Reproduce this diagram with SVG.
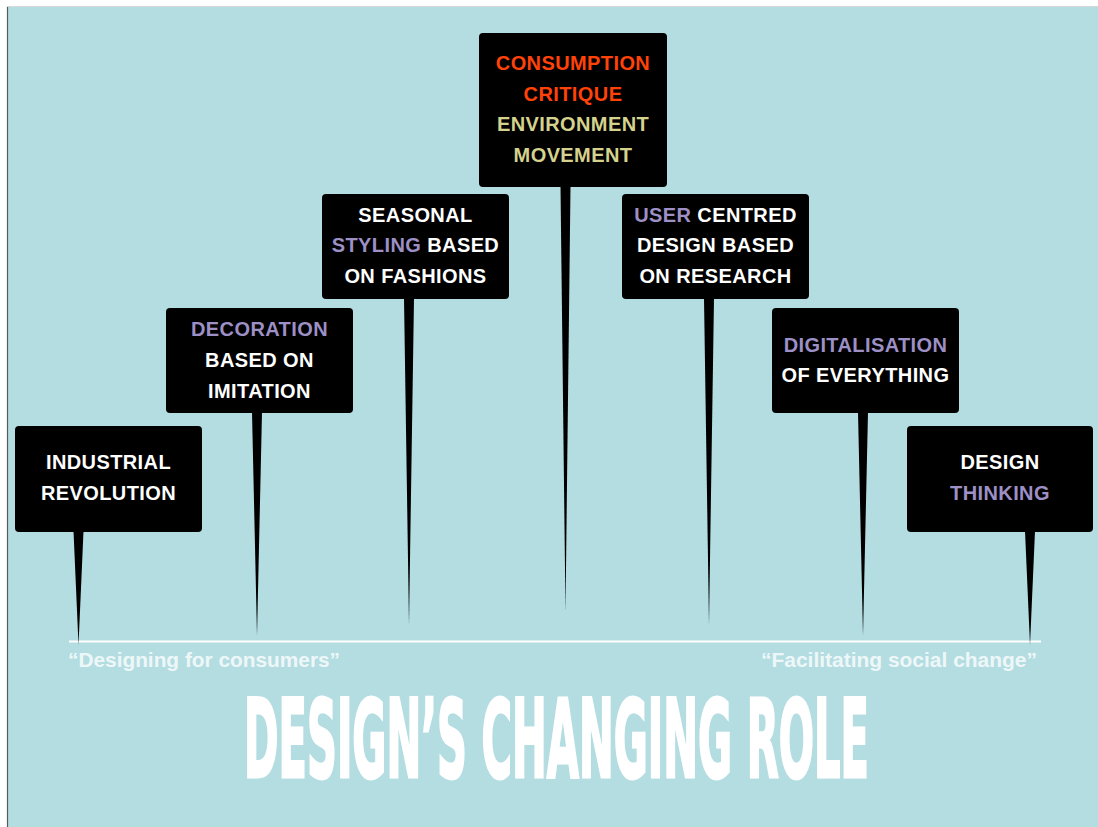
<svg xmlns="http://www.w3.org/2000/svg" width="1098" height="827" viewBox="0 0 1098 827">
  <style>
    .box { fill: #000000; }
    .stem { fill: #000000; }
    .t { font-family: "Liberation Sans", Arial, sans-serif; font-weight: bold; font-size: 20px; letter-spacing: 0.4px; fill: #ffffff; text-anchor: middle; }
    .p { fill: #9d90c6; }
    .r { fill: #ff4208; }
    .k { fill: #d5d28e; }
    .q { font-family: "Liberation Sans", Arial, sans-serif; font-weight: bold; font-size: 20.5px; fill: #ffffff; fill-opacity: 0.8; }
    .title { font-family: "DejaVu Sans Condensed", "DejaVu Sans", sans-serif; font-weight: bold; font-size: 108px; fill: #ffffff; stroke: #ffffff; stroke-width: 3; }
  </style>
  <rect x="0" y="0" width="1098" height="827" fill="#ffffff"/>
  <rect x="7" y="6" width="1091" height="821" fill="#b4dde2"/>
  <line x1="7.5" y1="6" x2="7.5" y2="827" stroke="#555a5a" stroke-width="1.2"/>
  <line x1="7" y1="6.5" x2="1098" y2="6.5" stroke="#d8d8d8" stroke-width="1.2"/>

  <g id="connectors">
    <line x1="69" y1="641.5" x2="1041" y2="641.5" stroke="#ffffff" stroke-width="2"/>
    <polygon class="stem" points="73.5,531 83.5,531 78.5,645"/>
    <polygon class="stem" points="252,412 262,412 257,636"/>
    <polygon class="stem" points="404,298 414,298 409,625"/>
    <polygon class="stem" points="560.5,186 570.5,186 565.5,612"/>
    <polygon class="stem" points="704,298 714,298 709,625"/>
    <polygon class="stem" points="858,412 868,412 863,636"/>
    <polygon class="stem" points="1025,531 1035,531 1030,645"/>
  </g>

  <g id="node-industrial">
    <rect class="box" x="15" y="426" width="187" height="106" rx="4"/>
    <text class="t" x="108.5" y="469">INDUSTRIAL</text>
    <text class="t" x="108.5" y="500">REVOLUTION</text>
  </g>

  <g id="node-decoration">
    <rect class="box" x="166" y="308" width="187" height="105" rx="4"/>
    <text class="t" x="259.5" y="336"><tspan class="p">DECORATION</tspan></text>
    <text class="t" x="259.5" y="367">BASED ON</text>
    <text class="t" x="259.5" y="398">IMITATION</text>
  </g>

  <g id="node-seasonal">
    <rect class="box" x="322" y="194" width="187" height="105" rx="4"/>
    <text class="t" x="415.5" y="222">SEASONAL</text>
    <text class="t" x="415.5" y="252"><tspan class="p">STYLING</tspan> BASED</text>
    <text class="t" x="415.5" y="283">ON FASHIONS</text>
  </g>

  <g id="node-consumption">
    <rect class="box" x="479" y="33" width="188" height="154" rx="4"/>
    <text class="t" x="573" y="70"><tspan class="r">CONSUMPTION</tspan></text>
    <text class="t" x="573" y="101"><tspan class="r">CRITIQUE</tspan></text>
    <text class="t" x="573" y="131"><tspan class="k">ENVIRONMENT</tspan></text>
    <text class="t" x="573" y="162"><tspan class="k">MOVEMENT</tspan></text>
  </g>

  <g id="node-user">
    <rect class="box" x="622" y="194" width="187" height="105" rx="4"/>
    <text class="t" x="715.5" y="222"><tspan class="p">USER</tspan> CENTRED</text>
    <text class="t" x="715.5" y="252">DESIGN BASED</text>
    <text class="t" x="715.5" y="283">ON RESEARCH</text>
  </g>

  <g id="node-digitalisation">
    <rect class="box" x="772" y="308" width="187" height="105" rx="4"/>
    <text class="t" x="865.5" y="352"><tspan class="p">DIGITALISATION</tspan></text>
    <text class="t" x="865.5" y="382">OF EVERYTHING</text>
  </g>

  <g id="node-thinking">
    <rect class="box" x="907" y="426" width="186" height="106" rx="4"/>
    <text class="t" x="1000" y="469">DESIGN</text>
    <text class="t" x="1000" y="500"><tspan class="p">THINKING</tspan></text>
  </g>

  <text class="q" x="68" y="667" textLength="272" lengthAdjust="spacingAndGlyphs">“Designing for consumers”</text>
  <text class="q" x="761" y="667" textLength="276" lengthAdjust="spacingAndGlyphs">“Facilitating social change”</text>

  <g transform="translate(244,777) scale(0.42,1)">
    <text class="title" x="0" y="0" textLength="1488" lengthAdjust="spacingAndGlyphs">DESIGN’S CHANGING ROLE</text>
  </g>
</svg>
